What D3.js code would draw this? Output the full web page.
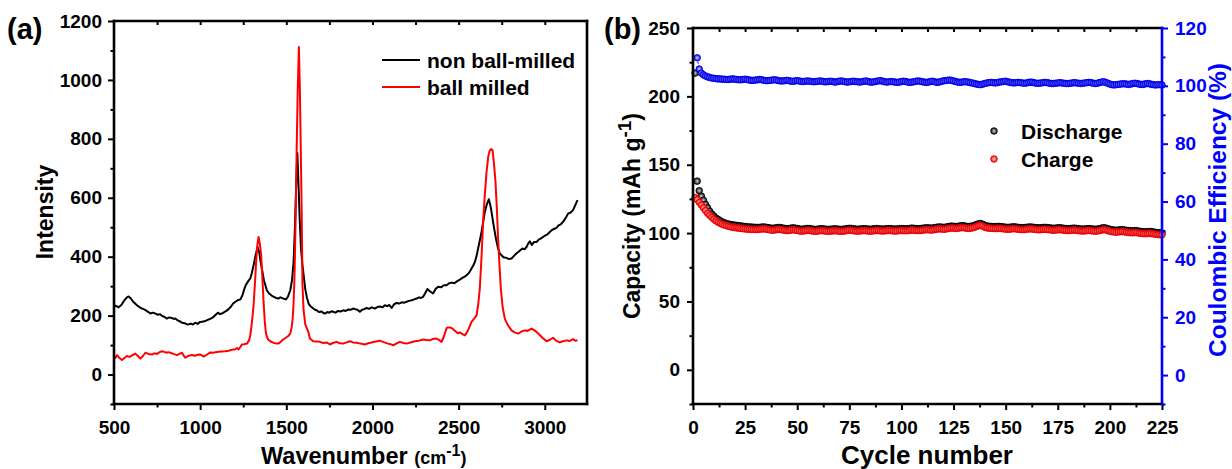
<!DOCTYPE html>
<html>
<head>
<meta charset="utf-8">
<script src="https://cdn.jsdelivr.net/npm/d3@7"></script>
<style>
  body { margin: 0; background: #fff; }
  svg { display: block; }
  text { font-family: "Liberation Sans", Arial, sans-serif; font-weight: bold; }
</style>
</head>
<body>
<svg id="chart" width="1232" height="469"></svg>
<script>
// ---------- Panel (a): Raman spectra, [wavenumber cm^-1, intensity] ----------
const nonMilled = [
  [500,235],[515,232],[527,228],[545,238],[560,252],[575,262],[585,265],[598,258],[610,248],[624,240],
  [640,232],[655,226],[672,222],[685,218],[700,212],[711,207],[725,210],[740,207],[755,203],[768,205],
  [778,199],[792,196],[807,190],[820,194],[835,192],[846,189],[856,190],[870,184],[884,180],[894,176],
  [910,174],[922,171],[933,170],[945,173],[958,170],[972,176],[985,172],[998,178],[1010,179],[1025,181],
  [1038,184],[1049,187],[1062,190],[1078,196],[1090,203],[1103,210],[1115,205],[1126,207],[1140,212],[1152,216],
  [1165,222],[1178,230],[1190,240],[1204,247],[1218,252],[1233,255],[1245,268],[1256,290],[1266,305],[1280,318],
  [1291,326],[1300,345],[1310,371],[1320,400],[1333,433],[1343,415],[1350,385],[1358,360],[1370,320],[1387,286],
  [1400,275],[1415,268],[1426,264],[1440,260],[1455,258],[1465,262],[1474,260],[1486,257],[1498,255],[1510,265],
  [1523,286],[1533,320],[1542,380],[1550,500],[1557,640],[1564,752],[1571,640],[1578,520],[1585,430],[1592,380],
  [1600,340],[1610,290],[1620,260],[1630,240],[1640,232],[1655,225],[1666,220],[1676,218],[1690,212],[1705,214],
  [1715,209],[1724,207],[1738,212],[1750,210],[1762,215],[1772,213],[1785,210],[1800,216],[1815,214],[1830,218],
  [1845,216],[1860,221],[1875,220],[1888,224],[1900,222],[1915,219],[1927,213],[1940,220],[1953,222],[1966,226],
  [1980,223],[1995,228],[2014,224],[2028,229],[2043,231],[2058,228],[2072,235],[2085,232],[2098,236],[2111,226],
  [2125,238],[2140,243],[2155,241],[2170,245],[2185,244],[2198,247],[2212,250],[2228,252],[2242,255],[2256,258],
  [2270,262],[2282,260],[2294,264],[2305,275],[2319,290],[2335,282],[2352,275],[2366,290],[2381,298],[2398,296],
  [2414,303],[2430,303],[2445,310],[2459,312],[2475,310],[2490,316],[2507,322],[2522,328],[2535,332],[2546,337],
  [2560,345],[2575,360],[2585,370],[2594,382],[2604,402],[2613,428],[2623,455],[2633,484],[2643,520],[2652,552],
  [2664,578],[2675,595],[2684,575],[2691,552],[2698,525],[2706,496],[2717,460],[2729,428],[2740,410],[2749,405],
  [2760,398],[2778,396],[2792,392],[2807,394],[2820,402],[2833,410],[2846,416],[2858,422],[2870,428],[2882,425],
  [2894,433],[2905,446],[2913,452],[2925,440],[2938,450],[2952,450],[2965,458],[2978,462],[2990,467],[3003,472],
  [3016,476],[3029,484],[3040,490],[3053,494],[3068,498],[3080,506],[3093,510],[3106,518],[3120,530],[3135,546],
  [3150,550],[3164,558],[3177,575],[3190,592]
];
const ballMilled = [
  [500,54],[510,58],[517,66],[530,57],[546,49],[560,56],[575,63],[590,60],[605,65],[615,68],
  [624,71],[640,62],[653,54],[668,63],[682,74],[700,70],[720,68],[735,72],[750,70],[765,76],
  [778,79],[792,77],[805,74],[815,76],[827,74],[845,70],[865,66],[880,70],[894,74],[905,64],
  [914,57],[930,63],[952,66],[970,64],[985,67],[1001,68],[1012,64],[1020,61],[1040,68],[1059,75],
  [1075,74],[1090,76],[1107,77],[1125,78],[1145,79],[1165,81],[1185,84],[1204,86],[1215,90],[1223,85],
  [1235,95],[1242,102],[1255,103],[1272,105],[1283,115],[1291,133],[1300,175],[1310,235],[1318,310],[1325,383],
  [1332,440],[1339,467],[1346,445],[1354,405],[1361,330],[1368,247],[1375,180],[1382,139],[1393,120],[1407,113],
  [1420,109],[1435,106],[1455,105],[1465,110],[1480,118],[1494,124],[1510,130],[1523,139],[1531,160],[1537,190],
  [1542,240],[1546,303],[1550,400],[1555,560],[1560,760],[1566,960],[1573,1112],[1579,960],[1584,760],[1589,560],
  [1594,303],[1600,220],[1610,170],[1627,146],[1637,122],[1656,113],[1675,112],[1695,111],[1715,107],[1734,109],
  [1753,102],[1770,107],[1792,111],[1810,106],[1830,105],[1850,109],[1869,113],[1888,109],[1908,108],[1930,105],
  [1956,102],[1975,106],[1995,109],[2020,112],[2043,115],[2065,110],[2091,105],[2105,103],[2120,99],[2140,106],
  [2159,111],[2180,107],[2198,105],[2220,109],[2246,113],[2270,115],[2294,119],[2315,117],[2333,116],[2352,121],
  [2372,122],[2385,118],[2401,111],[2415,130],[2430,158],[2445,160],[2459,158],[2468,154],[2480,148],[2495,140],
  [2507,143],[2520,138],[2536,133],[2550,145],[2563,162],[2575,179],[2590,190],[2604,201],[2614,240],[2623,292],
  [2633,400],[2642,518],[2652,610],[2662,688],[2672,740],[2681,761],[2690,765],[2697,761],[2706,710],[2714,654],
  [2722,560],[2729,462],[2737,370],[2745,292],[2755,230],[2768,190],[2785,168],[2807,150],[2825,143],[2846,139],
  [2865,146],[2884,150],[2900,148],[2923,156],[2940,150],[2962,139],[2985,126],[3010,113],[3030,118],[3048,125],
  [3065,115],[3087,109],[3105,113],[3126,116],[3145,114],[3164,120],[3177,115],[3190,116]
];
const ramanLegend = ["non ball-milled", "ball milled"];
const wnMajorTicks = [500, 1000, 1500, 2000, 2500, 3000];
const wnMinorTicks = [750, 1250, 1750, 2250, 2750];
const intMajorTicks = [0, 200, 400, 600, 800, 1000, 1200];
const intMinorTicks = [-100, 100, 300, 500, 700, 900, 1100];

// ---------- Panel (b): cycling, capacity (mAh g^-1) from cycle 1 ----------
const discharge = [
  217,138,131,127,124,121,118.5,116,114,112.5,
  111,110,109,108.2,107.5,107,106.6,106.3,106,105.8,
  105.6,105.4,105.2,105,104.8,104.6,104.5,104.4,104.3,104.2,
  104.1,104.2,104.4,104.5,104.3,104,103.7,103.5,103.6,103.9,
  104.1,104,103.7,103.4,103.2,103.3,103.6,103.8,103.6,103.3,
  103,102.8,102.9,103.2,103.4,103.3,103,102.8,102.7,102.9,
  103.1,103.2,103,102.8,102.7,102.8,103,103.1,103,102.8,
  102.7,102.8,103,103.3,103.5,103.4,103.1,102.9,102.8,102.9,
  103.1,103.2,103.1,102.9,102.8,102.9,103.1,103.3,103.2,103,
  102.9,103,103.2,103.3,103.2,103,102.9,103,103.2,103.3,
  103.2,103.1,103.2,103.4,103.6,103.5,103.3,103.2,103.3,103.5,
  103.7,103.9,103.8,103.6,103.7,104,104.3,104.5,104.4,104.2,
  104.3,104.6,104.9,105.1,105,104.8,104.9,105.2,105.4,105.3,
  105,104.8,104.9,105.2,105.6,106.2,106.8,107,106.4,105.6,
  105.2,105,104.9,104.8,104.7,104.8,104.9,104.7,104.5,104.3,
  104.2,104.3,104.5,104.6,104.4,104.2,104,103.9,104,104.2,
  104.4,104.5,104.3,104.1,103.9,103.8,103.9,104.1,104.2,104,
  103.8,103.6,103.5,103.6,103.8,103.9,103.7,103.5,103.3,103.2,
  103.3,103.5,103.6,103.4,103.2,103,102.9,103,103.2,103.3,
  103.1,102.9,102.8,102.9,103.2,103.6,103.9,103.7,103.2,102.8,
  102.4,102.2,102.1,102.2,102.4,102.5,102.3,102,101.8,101.7,
  101.6,101.8,101.7,101.4,101.2,101,100.9,101,101.2,101.1,
  100.8,100.5,100.3,100.2,100.1
];
const charge = [
  126,124.5,122.5,120.5,118.5,116.5,114.5,113,111.5,110.2,
  109,108,107.2,106.5,105.9,105.4,105,104.6,104.3,104,
  103.8,103.6,103.4,103.2,103.0,102.9,102.8,102.7,102.6,102.6,
  102.6,102.8,103.0,103.1,102.9,102.6,102.3,102.1,102.2,102.5,
  102.7,102.6,102.3,102.0,101.8,101.9,102.2,102.4,102.2,101.9,
  101.6,101.4,101.5,101.8,102.0,101.9,101.6,101.4,101.3,101.5,
  101.7,101.8,101.6,101.4,101.3,101.4,101.6,101.7,101.6,101.4,
  101.3,101.4,101.6,101.9,102.1,102.0,101.7,101.5,101.4,101.5,
  101.7,101.8,101.7,101.5,101.4,101.5,101.7,101.9,101.8,101.6,
  101.5,101.6,101.8,101.9,101.8,101.6,101.5,101.6,101.8,101.9,
  101.8,101.7,101.8,102.0,102.2,102.1,101.9,101.8,101.9,102.1,
  102.3,102.5,102.4,102.2,102.3,102.6,102.9,103.1,103.0,102.8,
  102.9,103.2,103.5,103.7,103.6,103.4,103.5,103.8,104.0,103.9,
  103.6,103.4,103.5,103.8,104.2,104.8,105.4,105.6,105.0,104.2,
  103.8,103.6,103.5,103.4,103.3,103.4,103.5,103.3,103.1,102.9,
  102.8,102.9,103.1,103.2,103.0,102.8,102.6,102.5,102.6,102.8,
  103.0,103.1,102.9,102.7,102.5,102.4,102.5,102.7,102.8,102.6,
  102.4,102.2,102.1,102.2,102.4,102.5,102.3,102.1,101.9,101.8,
  101.9,102.1,102.2,102.0,101.8,101.6,101.5,101.6,101.8,101.9,
  101.7,101.5,101.4,101.5,101.8,102.2,102.5,102.3,101.8,101.4,
  101.0,100.8,100.7,100.8,101.0,101.1,100.9,100.6,100.4,100.3,
  100.2,100.4,100.3,100.0,99.8,99.6,99.5,99.6,99.8,99.7,
  99.4,99.1,98.9,98.8,98.7
];
// Coulombic efficiency (%) from cycle 2
const ceStartCycle = 2;
const efficiency = [
  109.7,105.8,104.4,103.8,103.4,103.1,102.9,102.7,102.6,
  102.5,102.4,102.4,102.3,102.3,102.2,102.2,102.3,102.4,102.3,
  102.2,102.1,102.1,102.2,102.3,102.2,102.0,101.9,101.9,102.0,
  102.1,102.2,102.1,101.9,101.8,101.8,101.9,102.0,102.1,102.0,
  101.8,101.7,101.7,101.8,101.9,101.8,101.6,101.6,101.7,101.8,
  101.7,101.5,101.5,101.6,101.7,101.6,101.5,101.4,101.5,101.6,
  101.7,101.6,101.4,101.4,101.5,101.6,101.5,101.3,101.4,101.6,
  101.7,101.6,101.4,101.3,101.4,101.5,101.6,101.5,101.4,101.3,
  101.4,101.6,101.7,101.5,101.3,101.3,101.4,101.6,101.7,101.8,
  101.6,101.4,101.3,101.4,101.5,101.4,101.3,101.2,101.3,101.5,
  101.6,101.5,101.3,101.2,101.3,101.4,101.6,101.7,101.6,101.4,
  101.3,101.2,101.3,101.5,101.6,101.4,101.2,101.3,101.5,101.7,
  101.8,101.9,102.0,101.9,101.7,101.5,101.3,101.2,101.3,101.4,
  101.4,101.3,101.1,101.0,100.8,100.6,100.5,100.4,100.6,100.8,
  101.0,101.1,101.2,101.1,101.0,101.1,101.3,101.4,101.5,101.6,
  101.4,101.2,101.1,101.0,101.1,101.2,101.1,101.0,100.9,101.0,
  101.2,101.3,101.2,101.0,100.9,100.9,101.0,101.1,101.2,101.1,
  100.9,100.8,100.8,100.9,101.0,101.1,101.0,100.9,100.8,100.8,
  100.9,101.0,101.1,101.0,100.9,100.8,100.9,101.0,101.1,101.2,
  101.1,100.9,100.8,100.9,101.1,101.3,101.4,101.2,100.9,100.6,
  100.4,100.3,100.4,100.5,100.6,100.7,100.7,100.6,100.5,100.6,
  100.8,100.9,100.8,100.6,100.5,100.5,100.7,100.8,100.7,100.5,
  100.4,100.3,100.4,100.4,100.3
];
const cycleLegend = ["Discharge", "Charge"];
const cycMajorTicks = [0, 25, 50, 75, 100, 125, 150, 175, 200, 225];
const cycMinorTicks = [12.5, 37.5, 62.5, 87.5, 112.5, 137.5, 162.5, 187.5, 212.5];
const capMajorTicks = [0, 50, 100, 150, 200, 250];
const capMinorTicks = [-25, 25, 75, 125, 175, 225];
const ceMajorTicks = [0, 20, 40, 60, 80, 100, 120];
const ceMinorTicks = [-10, 10, 30, 50, 70, 90, 110];

// ---------- drawing ----------
const svg = d3.select("#chart");
svg.append("rect").attr("width", 1232).attr("height", 469).attr("fill", "#fff");

const BLUE = "#0000ff", RED = "#ff0000", BLACK = "#000";
const TICK_FONT = 19;

function axis(gen, scale, at, values, size, opts = {}) {
  const color = opts.color || BLACK;
  const a = gen(scale).tickValues(values).tickSizeOuter(0).tickSize(size)
    .tickPadding(opts.pad || 6)
    .tickFormat(opts.labels ? d3.format("d") : () => "");
  const g = svg.append("g").attr("transform", at).call(a);
  g.select(".domain").remove();
  g.selectAll(".tick line").attr("stroke", color).attr("stroke-width", 2);
  g.selectAll(".tick text").attr("fill", color).style("font-size", TICK_FONT + "px");
  return g;
}

function frame(x0, x1, y0, y1, rightColor) {
  const s = svg.append("g").attr("stroke-width", 2.6).attr("stroke-linecap", "square");
  s.append("line").attr("x1", x0).attr("x2", x1).attr("y1", y1).attr("y2", y1).attr("stroke", BLACK);
  s.append("line").attr("x1", x0).attr("x2", x1).attr("y1", y0).attr("y2", y0).attr("stroke", BLACK);
  s.append("line").attr("x1", x0).attr("x2", x0).attr("y1", y0).attr("y2", y1).attr("stroke", BLACK);
  s.append("line").attr("x1", x1).attr("x2", x1).attr("y1", y0).attr("y2", y1).attr("stroke", rightColor);
}

// ---- Panel (a) ----
const A = { l: 114, r: 587, t: 21, b: 404 };
const xA = d3.scaleLinear().domain([500, 3245]).range([A.l, A.r]);
const yA = d3.scaleLinear().domain([-100, 1200]).range([A.b, A.t]);

const lineA = d3.line().x(d => xA(d[0])).y(d => yA(d[1]));
svg.append("path").datum(nonMilled).attr("d", lineA)
  .attr("fill", "none").attr("stroke", BLACK).attr("stroke-width", 2).attr("stroke-linejoin", "round");
svg.append("path").datum(ballMilled).attr("d", lineA)
  .attr("fill", "none").attr("stroke", RED).attr("stroke-width", 2).attr("stroke-linejoin", "round");

axis(d3.axisBottom, xA, `translate(0,${A.b})`, wnMajorTicks, 6, { labels: true, pad: 11 });
axis(d3.axisBottom, xA, `translate(0,${A.b})`, wnMinorTicks, 3.5);
axis(d3.axisTop, xA, `translate(0,${A.t})`, wnMinorTicks.concat([1000, 1500, 2000, 2500, 3000]), -4);
axis(d3.axisLeft, yA, `translate(${A.l},0)`, intMajorTicks, 6, { labels: true, pad: 6 });
axis(d3.axisLeft, yA, `translate(${A.l},0)`, intMinorTicks, 3.5);
frame(A.l, A.r, A.t, A.b, BLACK);

svg.append("text").attr("x", 261).attr("y", 464)
  .style("font-size", "23.5px")
  .call(t => {
    t.append("tspan").text("Wavenumber ");
    t.append("tspan").style("font-size", "18px").text("(cm");
    t.append("tspan").attr("dy", -8).style("font-size", "16px").text("-1");
    t.append("tspan").attr("dy", 8).style("font-size", "18px").text(")");
  });
svg.append("text").attr("transform", "translate(53,212) rotate(-90)").attr("text-anchor", "middle")
  .style("font-size", "23px").text("Intensity");
svg.append("text").attr("x", 7).attr("y", 39).style("font-size", "29px").text("(a)");

// legend (a)
const legA = svg.append("g");
[[BLACK, 60], [RED, 87]].forEach(([c, y], i) => {
  legA.append("line").attr("x1", 382).attr("x2", 420).attr("y1", y).attr("y2", y)
    .attr("stroke", c).attr("stroke-width", 2);
  legA.append("text").attr("x", 427).attr("y", y + 7.5).style("font-size", "21px").text(ramanLegend[i]);
});

// ---- Panel (b) ----
const B = { l: 693, r: 1162, t: 28, b: 404 };
const xB = d3.scaleLinear().domain([0, 225]).range([B.l, B.r]);
const yB = d3.scaleLinear().domain([-25, 250]).range([B.b, B.t]);
const yCE = d3.scaleLinear().domain([-10, 120]).range([B.b, B.t]);

const defs = svg.append("defs");
function ballGradient(id, light, mid, dark) {
  const g = defs.append("radialGradient").attr("id", id)
    .attr("cx", "50%").attr("cy", "50%").attr("r", "50%");
  g.append("stop").attr("offset", "0%").attr("stop-color", light);
  g.append("stop").attr("offset", "45%").attr("stop-color", mid);
  g.append("stop").attr("offset", "100%").attr("stop-color", dark);
}
ballGradient("gBlack", "#d8d8d8", "#777", "#111");
ballGradient("gRed", "#ffe0e0", "#ff7070", "#ee0000");
ballGradient("gBlue", "#e0e0ff", "#7070ff", "#0000ee");

const R = 3.3;
const dischargePts = discharge.map((v, i) => [i + 1, v]);
const chargePts = charge.map((v, i) => [i + 1, v]);
const cePts = efficiency.map((v, i) => [i + ceStartCycle, v]);

// efficiency: thin dashed connector then markers
svg.append("path").datum(cePts)
  .attr("d", d3.line().x(d => xB(d[0])).y(d => yCE(d[1])))
  .attr("fill", "none").attr("stroke", BLUE).attr("stroke-width", 1).attr("stroke-dasharray", "2,2");

function markers(pts, yScale, fill, stroke) {
  svg.append("g").selectAll("circle").data(pts).join("circle")
    .attr("cx", d => xB(d[0])).attr("cy", d => yScale(d[1])).attr("r", R)
    .attr("fill", fill).attr("stroke", stroke).attr("stroke-width", 0.8);
}
markers(dischargePts, yB, "url(#gBlack)", "#000");
markers(chargePts, yB, "url(#gRed)", "#e00000");
markers(cePts, yCE, "url(#gBlue)", "#0000e0");

axis(d3.axisBottom, xB, `translate(0,${B.b})`, cycMajorTicks, 6, { labels: true, pad: 11 });
axis(d3.axisBottom, xB, `translate(0,${B.b})`, cycMinorTicks, 3.5);
axis(d3.axisTop, xB, `translate(0,${B.t})`, cycMinorTicks.concat([25, 50, 75, 100, 125, 150, 175, 200]), -4);
axis(d3.axisLeft, yB, `translate(${B.l},0)`, capMajorTicks, 6, { labels: true, pad: 7 });
axis(d3.axisLeft, yB, `translate(${B.l},0)`, capMinorTicks, 3.5);
axis(d3.axisRight, yCE, `translate(${B.r},0)`, ceMajorTicks, 6, { labels: true, pad: 7, color: BLUE });
axis(d3.axisRight, yCE, `translate(${B.r},0)`, ceMinorTicks, 3.5, { color: BLUE });
frame(B.l, B.r, B.t, B.b, BLUE);

svg.append("text").attr("x", 927).attr("y", 464).attr("text-anchor", "middle")
  .style("font-size", "26px").text("Cycle number");
svg.append("text").attr("transform", "translate(640,216) rotate(-90)").attr("text-anchor", "middle")
  .style("font-size", "23px")
  .call(t => {
    t.append("tspan").text("Capacity (mAh g");
    t.append("tspan").attr("dy", -9).style("font-size", "19px").text("-1");
    t.append("tspan").attr("dy", 9).text(")");
  });
svg.append("text").attr("transform", "translate(1226,210) rotate(-90)").attr("text-anchor", "middle")
  .attr("fill", BLUE).style("font-size", "24.5px").text("Coulombic Efficiency (%)");
svg.append("text").attr("x", 604).attr("y", 39).style("font-size", "29px").text("(b)");

// legend (b)
const legB = svg.append("g");
[["url(#gBlack)", "#000", 131], ["url(#gRed)", "#e00000", 159]].forEach(([f, s, y], i) => {
  legB.append("circle").attr("cx", 994).attr("cy", y).attr("r", 3.3)
    .attr("fill", f).attr("stroke", s).attr("stroke-width", 0.8);
  legB.append("text").attr("x", 1021).attr("y", y + 7.5).style("font-size", "21px").text(cycleLegend[i]);
});
</script>
</body>
</html>
